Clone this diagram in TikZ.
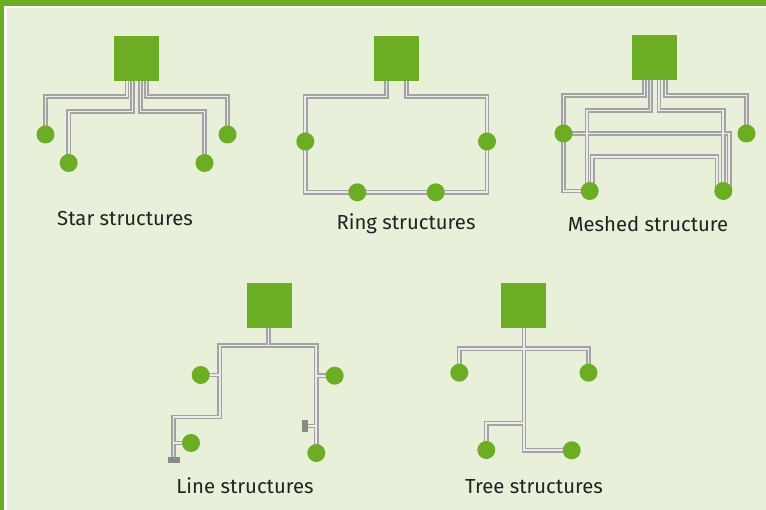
\documentclass[tikz,border=0pt]{standalone}
\usepackage{fontspec}
\setmainfont{Fira Sans}
\usetikzlibrary{calc}
\definecolor{lgreen}{HTML}{6BAE24}
\definecolor{bgc}{HTML}{E8F0DA}
\definecolor{txt}{HTML}{222222}
\definecolor{term}{HTML}{8A8A8A}
\pgfdeclarelayer{bg}
\pgfdeclarelayer{pipeback}
\pgfdeclarelayer{front}
\pgfsetlayers{bg,pipeback,main,front}
\tikzset{
  box/.style={fill=lgreen, minimum size=45pt, inner sep=0pt, outer sep=0pt},
  dot/.style={circle, fill=lgreen, minimum size=18pt, inner sep=0pt, outer sep=0pt},
  termh/.style={fill=term, minimum width=12pt, minimum height=6pt, inner sep=0pt},
  termv/.style={fill=term, minimum width=6pt, minimum height=12pt, inner sep=0pt},
  pipeout/.style={draw=gray!72, line width=4.6pt},
  pipein/.style={draw=gray!16, line width=1.9pt},
  lbl/.style={font=\fontsize{20.3}{24}\selectfont, text=txt, anchor=base, inner sep=0pt},
}
\newcommand\pipe[1]{%
  \begin{pgfonlayer}{pipeback}\draw[pipeout] #1;\end{pgfonlayer}%
  \draw[pipein] #1;}
\begin{document}
\begin{tikzpicture}[x=1pt,y=-1pt]
\useasboundingbox (0,0) rectangle (766,510);
\begin{pgfonlayer}{bg}
  \fill[lgreen] (0,0) rectangle (766,510);
  \fill[white] (4.3,6) rectangle (766,510);
  \fill[bgc] (7,8.5) rectangle (766,510);
\end{pgfonlayer}
\begin{pgfonlayer}{front}
  % star
  \node[box] (sqA) at (136.5,58.5) {};
  \node[dot] (c1) at (45.5,134.5) {};
  \node[dot] (c2) at (68.7,163) {};
  \node[dot] (c3) at (204.5,163) {};
  \node[dot] (c4) at (227.5,134.5) {};
  % ring
  \node[box] (sqB) at (396.5,58.5) {};
  \node[dot] (r1) at (305.3,141.5) {};
  \node[dot] (r2) at (487,141.5) {};
  \node[dot] (r3) at (357.3,192.3) {};
  \node[dot] (r4) at (435.7,192.3) {};
  % meshed
  \node[box] (sqC) at (654.5,57.5) {};
  \node[dot] (m1) at (563.5,133.5) {};
  \node[dot] (m2) at (746.5,133.5) {};
  \node[dot] (m3) at (589.7,191) {};
  \node[dot] (m4) at (723.3,191) {};
  % line
  \node[box] (sqD) at (269.5,305.5) {};
  \node[dot] (l1) at (200.7,375) {};
  \node[dot] (l2) at (191,443) {};
  \node[dot] (l3) at (334.7,375.7) {};
  \node[dot] (l4) at (316.3,453) {};
  \node[termh] (t1) at (173.5,460) {};
  \node[termv] (t2) at (305,426) {};
  % tree
  \node[box] (sqE) at (523.5,305.5) {};
  \node[dot] (e1) at (459.3,372.7) {};
  \node[dot] (e2) at (588.5,372.7) {};
  \node[dot] (e3) at (486.3,450) {};
  \node[dot] (e4) at (571.7,450.3) {};
\end{pgfonlayer}
% star pipes
\pipe{($(sqA.south)+(-9.5,0)$) -- ++(0,15.5) -| (c1.center)}
\pipe{($(sqA.south)+(-4,0)$) -- ++(0,30.5) -| (c2.center)}
\pipe{($(sqA.south)+(4,0)$) -- ++(0,30.5) -| (c3.center)}
\pipe{($(sqA.south)+(10,0)$) -- ++(0,15.5) -| (c4.center)}
% ring pipe
\pipe{($(sqB.south)+(-10,0)$) -- ++(0,15.5) -| (r1.center) |- (r3.center) -- (r4.center) -| (r2.center) |- ($(sqB.south)+(10,15.5)$) -- ($(sqB.south)+(10,0)$)}
% meshed pipes
\pipe{($(sqC.south)+(-10,0)$) -- ++(0,15.5) -| (m1.center) |- (m3.center)}
\pipe{($(sqC.south)+(-4,0)$) -- ++(0,30.5) -| ($(m3.center)+(-2.7,0)$)}
\pipe{($(sqC.south)+(4.5,0)$) -- ++(0,30.5) -| (m4.center)}
\pipe{($(sqC.south)+(11,0)$) -- ++(0,15.5) -| (m2.center)}
\pipe{(m1.center) -| ($(m4.center)+(6,0)$)}
\pipe{($(m3.center)+(2.6,0)$) -- ++(0,-34.3) -| ($(m4.center)+(-6.3,0)$)}
% line pipes
\pipe{($(sqD.south)+(-1,0)$) -- ++(0,17.5)}
\pipe{(t1.center) |- (219.7,417) |- (316.3,345.5) -- (l4.center)}
\pipe{(l1.center) -- ++(19,0)}
\pipe{(l2.center) -- ++(-17.3,0)}
\pipe{(l3.center) -- ++(-18.4,0)}
\pipe{(t2.center) -- ++(11.3,0)}
% tree pipes
\pipe{($(sqE.south)+(0.5,0)$) |- (e4.center)}
\pipe{(e1.center) -- ++(0,-24) -| (e2.center)}
\pipe{($(sqE.south)+(0.5,95.3)$) -| (e3.center)}
% labels
\node[lbl] (tA) at (125,226) {Star structures};
\node[lbl] (tB) at (406,229.5) {Ring structures};
\node[lbl] (tC) at (648,232) {Meshed structure};
\node[lbl] (tD) at (245,493.3) {Line structures};
\node[lbl] (tE) at (534,493.3) {Tree structures};
\end{tikzpicture}
\end{document}
